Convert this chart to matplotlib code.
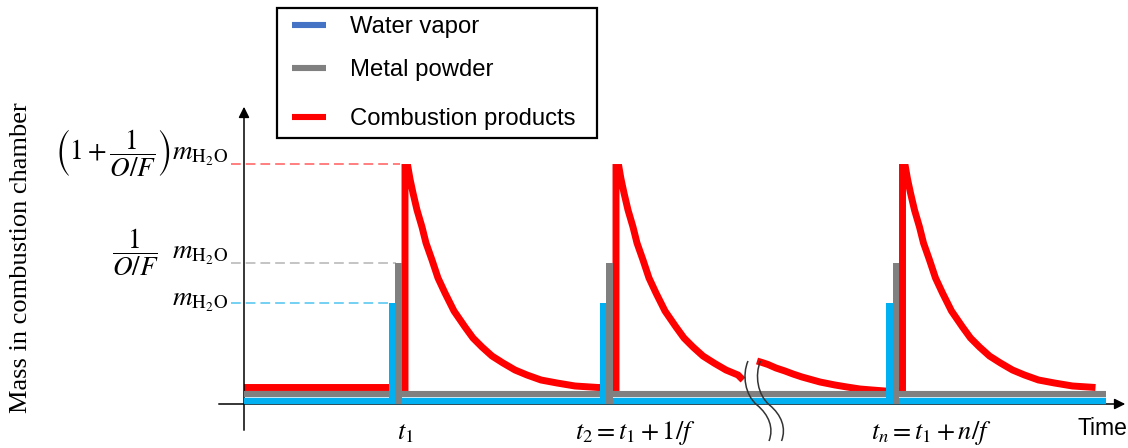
import numpy as np
import matplotlib.pyplot as plt
from matplotlib.path import Path
from matplotlib.patches import PathPatch, Rectangle

plt.rcParams['mathtext.fontset'] = 'stix'
plt.rcParams['lines.scale_dashes'] = False

# time of each combustion pulse (red spike) and mass levels
pulse_t = np.array([161., 372., 658.5])
m_water = 101.
m_powder = 141.
m_total = 240.
m_base = 16.5          # residual combustion products
band_water = 3.5       # continuous water vapour flow
band_powder = 10.
band_end = 862.
break_t = 499.         # axis break
break_m = 24.

# decay of combustion products after a pulse
decay_dt = np.array([0, 3, 5, 8, 12, 17, 21, 27, 33, 40, 49, 60, 68, 77, 87,
                     98, 110, 122, 136, 152, 170, 193])
decay_m = np.array([236.5, 236.5, 225, 211, 194, 177, 161, 144, 126, 111, 93,
                    77, 66, 57, 48, 41, 34, 29, 24, 21, 18, 16.5])

# tail of pulse n-1 after the axis break
tail_t = np.array([513, 518, 524, 532, 541, 549, 558, 567, 576, 591, 603, 616,
                   628, 641])
tail_m = np.array([43, 41.5, 39.5, 36, 33, 30, 27, 24.5, 22, 19, 17, 15,
                   14, 13])

legend_labels = ['Water vapor', 'Metal powder', 'Combustion products']
legend_colors = ['#4472C4', '#808080', '#FF0000']

blue = '#00B0F0'
gray = '#808080'
red = '#FF0000'

fig = plt.figure(figsize=(11.28, 4.48), dpi=100)
ax = fig.add_axes([0, 0, 1, 1])
ax.set_xlim(-244, 884)
ax.set_ylim(-44, 404)
ax.axis('off')

# axes with arrows
ax.annotate('', xy=(0, 300), xytext=(0, -29),
            arrowprops=dict(arrowstyle='-|>', mutation_scale=16, lw=1.1, color='k'))
ax.annotate('', xy=(884, 0), xytext=(-28, 0),
            arrowprops=dict(arrowstyle='-|>', mutation_scale=16, lw=1.1, color='k'))

# continuous bands
ax.plot([0, band_end], [band_water, band_water], color=blue, lw=4.6,
        solid_capstyle='butt', zorder=3)
ax.plot([0, band_end], [band_powder, band_powder], color=gray, lw=4.4,
        solid_capstyle='butt', zorder=3)

# combustion products, before the break
keep = decay_dt < break_t - pulse_t[1]
seg1_t = np.concatenate([[0., pulse_t[0]], pulse_t[0] + decay_dt, pulse_t[1:2],
                         pulse_t[1] + decay_dt[keep], [break_t]])
seg1_m = np.concatenate([[m_base, m_base], decay_m, [m_base],
                         decay_m[keep], [break_m]])
ax.plot(seg1_t, seg1_m, color=red, lw=5, solid_joinstyle='miter',
        solid_capstyle='butt', zorder=2)

# after the break
seg2_t = np.concatenate([tail_t, [pulse_t[2]], pulse_t[2] + decay_dt])
seg2_m = np.concatenate([tail_m, [tail_m[-1]], decay_m])
ax.plot(seg2_t, seg2_m, color=red, lw=5, solid_joinstyle='miter',
        solid_capstyle='butt', zorder=2)

# injected water and powder
ax.bar(pulse_t - 13, m_water, width=7, bottom=0, color=blue, zorder=4)
ax.bar(pulse_t - 6.5, m_powder, width=6.5, bottom=0, color=gray, zorder=4)

# guide lines
ax.plot([-13, pulse_t[0] - 5], [m_total, m_total], color='#FF5B5B', lw=1.1,
        ls=(0, (7, 3.6)))
ax.plot([-13, pulse_t[0] - 9], [m_powder, m_powder], color='#BFBFBF', lw=1.3,
        ls=(0, (7, 3.6)))
ax.plot([-13, pulse_t[0] - 16], [m_water, m_water], color='#4DC3F0', lw=1.1,
        ls=(0, (7, 3.6)))

mfs = 19.5
ax.text(-16, m_total + 11, r'$\left(1+\dfrac{1}{O/F}\right)m_{\mathrm{H_2O}}$',
        ha='right', va='center', fontsize=mfs)
ax.text(-16, m_powder + 11, r'$\dfrac{1}{O/F}\ \ m_{\mathrm{H_2O}}$',
        ha='right', va='center', fontsize=mfs)
ax.text(-16, m_water + 2, r'$m_{\mathrm{H_2O}}$',
        ha='right', va='center', fontsize=mfs)

xfs = 19
ax.text(pulse_t[0], -35, r'$t_1$', ha='center', va='baseline', fontsize=xfs)
ax.text(391, -35, r'$t_2 = t_1 + 1/f$', ha='center', va='baseline', fontsize=xfs)
ax.text(687, -35, r'$t_n = t_1 + n/f$', ha='center', va='baseline', fontsize=xfs)
ax.text(858, -24, 'Time', ha='center', va='center', fontsize=16.5,
        family='Liberation Sans')
ax.text(-223, 146, 'Mass in combustion chamber', rotation=90, ha='center',
        va='center', fontsize=19, family='Liberation Serif')

# axis break marks
def wave(x0):
    verts = [(x0, 43), (x0 - 6, 29), (x0 - 3, 9), (x0 + 9, -1),
             (x0 + 21, -11), (x0 + 26, -24), (x0 + 21, -37)]
    codes = [Path.MOVETO] + [Path.CURVE4] * 6
    return PathPatch(Path(verts, codes), fc='none', ec='#333333', lw=1.1,
                     zorder=5)

ax.add_patch(wave(504))
ax.add_patch(wave(516.5))

# legend box
ax.add_patch(Rectangle((33, 266), 320, 130, fill=False, ec='k', lw=1.6,
                       zorder=6))
for lab, col, y in zip(legend_labels, legend_colors, [379, 336, 287]):
    ax.plot([48, 82], [y, y], color=col, lw=4.4, solid_capstyle='butt')
    ax.text(106, y - 2, lab, ha='left', va='center', fontsize=17.2,
            family='Liberation Sans')

fig.savefig('out.png', dpi=100)
